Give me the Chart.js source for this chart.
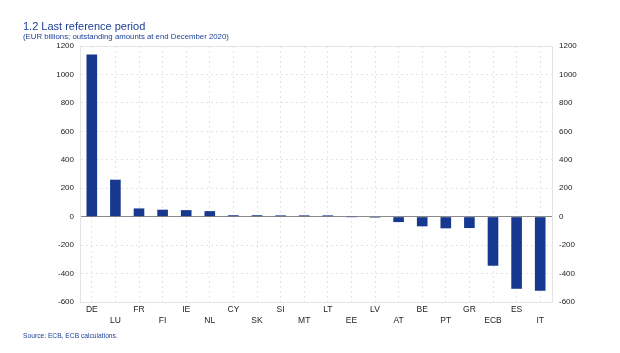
<!DOCTYPE html>
<html>
<head>
<meta charset="utf-8">
<script src="https://cdn.jsdelivr.net/npm/chart.js@4/dist/chart.umd.min.js"></script>
<style>
    html, body { margin: 0; padding: 0; background: #fff; }
    .wrap { position: relative; width: 620px; height: 353px; overflow: hidden; }
    .wrap canvas { position: absolute; left: 0; top: 0; }
    .txt { position: absolute; left: 23px; line-height: 1; white-space: nowrap; color: #1b3f95;
           font-family: 'Liberation Sans', Arial, sans-serif; }
    .title { top: 20.7px; font-size: 11px; }
    .subtitle { top: 33px; font-size: 7.8px; }
    .source { top: 332.6px; font-size: 6.7px; }
</style>
</head>
<body>
<div class="wrap">
    <canvas id="chart" width="620" height="353"></canvas>
    <div class="txt title">1.2 Last reference period</div>
    <div class="txt subtitle">(EUR billions; outstanding amounts at end December 2020)</div>
    <div class="txt source">Source: ECB, ECB calculations.</div>
</div>
<script>
    const categories = ['DE', 'LU', 'FR', 'FI', 'IE', 'NL', 'CY', 'SK', 'SI', 'MT',
        'LT', 'EE', 'LV', 'AT', 'BE', 'PT', 'GR', 'ECB', 'ES', 'IT'];
    const balances = [1140, 260, 58, 49, 46, 39, 10, 10, 9, 9,
        9, -1, -7, -38, -68, -82, -80, -345, -507, -521];
    const yTicks = [-600, -400, -200, 0, 200, 400, 600, 800, 1000, 1200];

    const barBlue = '#17388f';
    const gridGrey = '#e4e4e4';
    const tickFont = { family: "'Liberation Sans', Arial, sans-serif", size: 8 };

    const yAxis = (position, width, padding, showGrid) => ({
        position,
        min: yTicks[0],
        max: yTicks[yTicks.length - 1],
        afterFit(axis) {
            axis.width = width;
        },
        afterBuildTicks(axis) {
            axis.ticks = yTicks.map((value) => ({ value }));
        },
        ticks: {
            color: '#222',
            font: tickFont,
            padding,
            callback: (value) => String(value),
        },
        grid: {
            display: showGrid,
            drawTicks: false,
            color: (c) => (c.tick && c.tick.value === 0 ? '#8a8a8a' : gridGrey),
            lineWidth: 1,
        },
        border: {
            display: true,
            color: gridGrey,
            dash: (c) => (c.tick && c.tick.value !== 0 && c.tick.value !== 1200 ? [2, 3] : []),
        },
    });

    new Chart(document.getElementById('chart'), {
        type: 'bar',
        data: {
            labels: categories,
            datasets: [{
                data: balances,
                backgroundColor: barBlue,
                borderWidth: 0,
                barPercentage: 0.45,
                categoryPercentage: 1,
            }],
        },
        options: {
            responsive: false,
            animation: false,
            events: [],
            layout: { padding: { left: 0, right: 0, top: 46, bottom: 0 } },
            plugins: {
                legend: { display: false },
                tooltip: { enabled: false },
            },
            scales: {
                x: {
                    afterFit(axis) {
                        axis.height = 51;
                    },
                    grid: {
                        offset: false,
                        drawTicks: false,
                        color: gridGrey,
                    },
                    border: {
                        display: true,
                        color: gridGrey,
                        dash: (c) => (c.tick ? [2, 3] : []),
                    },
                    ticks: {
                        autoSkip: false,
                        maxRotation: 0,
                        minRotation: 0,
                        color: '#222',
                        font: { family: tickFont.family, size: 8.5 },
                        padding: 3,
                        callback(value, index) {
                            const label = categories[index];
                            return index % 2 === 0 ? [label, ''] : ['', label];
                        },
                    },
                },
                y: yAxis('left', 80, 6, true),
                y2: yAxis('right', 68, 7, false),
            },
        },
    });
</script>
</body>
</html>
